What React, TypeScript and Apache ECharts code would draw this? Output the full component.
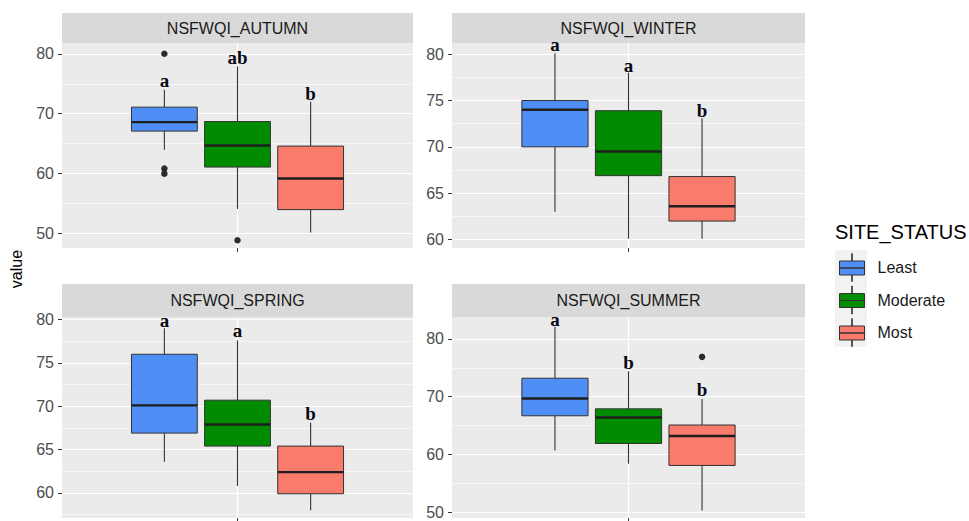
import React, { useEffect, useRef } from "react";
import * as echarts from "echarts";

// ---------- data ----------
const panelNames = ["NSFWQI_AUTUMN", "NSFWQI_WINTER", "NSFWQI_SPRING", "NSFWQI_SUMMER"];
const groupNames = ["Least", "Moderate", "Most"];

// per group: [lower whisker, Q1, median, Q3, upper whisker]
const autumnBoxes = [
  [64.0, 67.1, 68.6, 71.1, 74.0],
  [54.1, 61.1, 64.7, 68.7, 77.9],
  [50.2, 54.0, 59.2, 64.6, 72.0],
];
const winterBoxes = [
  [63.0, 70.0, 74.0, 75.0, 80.1],
  [60.1, 66.9, 69.5, 73.9, 78.0],
  [60.1, 62.0, 63.6, 66.8, 73.1],
];
const springBoxes = [
  [63.6, 66.9, 70.1, 76.0, 79.0],
  [60.8, 65.4, 67.9, 70.7, 77.6],
  [58.0, 59.9, 62.4, 65.4, 68.1],
];
const summerBoxes = [
  [60.7, 66.7, 69.7, 73.2, 82.1],
  [58.4, 61.9, 66.4, 67.9, 74.4],
  [50.3, 58.1, 63.2, 65.1, 69.6],
];

// outliers: [group index, value]
const autumnOutliers = [[0, 80.0], [0, 60.85], [0, 60.0], [1, 48.9]];
const winterOutliers: number[][] = [];
const springOutliers: number[][] = [];
const summerOutliers = [[2, 76.9]];

// significance letters and their heights
const autumnLetters = ["a", "ab", "b"];
const autumnLetterY = [75.5, 79.3, 73.4];
const winterLetters = ["a", "a", "b"];
const winterLetterY = [81.0, 78.8, 73.9];
const springLetters = ["a", "a", "b"];
const springLetterY = [79.85, 78.7, 69.2];
const summerLetters = ["a", "b", "b"];
const summerLetterY = [83.3, 75.9, 71.3];

// tick labels
const autumnTicks = [50, 60, 70, 80];
const winterTicks = [60, 65, 70, 75, 80];
const springTicks = [60, 65, 70, 75, 80];
const summerTicks = [50, 60, 70, 80];

// ---------- layout / style ----------
const COLORS = ["#4f8ff5", "#008b00", "#f87b6c"];
const SANS = "Liberation Sans, Arial, sans-serif";
const SERIF = "Liberation Serif, Times New Roman, serif";
const X_CENTER = 0.6;
const DODGE = 0.25;
const BOX_W = 0.225;

const panels = [
  { boxes: autumnBoxes, outliers: autumnOutliers, letters: autumnLetters, letterY: autumnLetterY, ticks: autumnTicks,
    left: 62, top: 43, width: 351, height: 205, stripTop: 13, stripH: 30, yMin: 47.6, yMax: 81.8, interval: 10 },
  { boxes: winterBoxes, outliers: winterOutliers, letters: winterLetters, letterY: winterLetterY, ticks: winterTicks,
    left: 452, top: 43, width: 353, height: 205, stripTop: 13, stripH: 30, yMin: 59.1, yMax: 81.2, interval: 5 },
  { boxes: springBoxes, outliers: springOutliers, letters: springLetters, letterY: springLetterY, ticks: springTicks,
    left: 62, top: 317, width: 351, height: 201, stripTop: 284, stripH: 33, yMin: 57.1, yMax: 80.3, interval: 5 },
  { boxes: summerBoxes, outliers: summerOutliers, letters: summerLetters, letterY: summerLetterY, ticks: summerTicks,
    left: 452, top: 317, width: 353, height: 201, stripTop: 284, stripH: 33, yMin: 49.0, yMax: 83.8, interval: 10 },
];

const groupX = (g: number) => X_CENTER + (g - 1) * DODGE;

const renderBox = (params: any, api: any) => {
  const x = api.value(0);
  const lo = api.coord([x, api.value(1)]);
  const q1 = api.coord([x, api.value(2)]);
  const md = api.coord([x, api.value(3)]);
  const q3 = api.coord([x, api.value(4)]);
  const hi = api.coord([x, api.value(5)]);
  const hw = api.size([BOX_W, 0])[0] / 2;
  const cx = lo[0];
  const color = api.visual("color");
  return {
    type: "group",
    children: [
      { type: "line", shape: { x1: cx, y1: hi[1], x2: cx, y2: q3[1] }, style: { stroke: "#333", lineWidth: 1.1 } },
      { type: "line", shape: { x1: cx, y1: q1[1], x2: cx, y2: lo[1] }, style: { stroke: "#333", lineWidth: 1.1 } },
      {
        type: "rect",
        shape: { x: cx - hw, y: q3[1], width: hw * 2, height: q1[1] - q3[1] },
        style: { fill: color, stroke: "#333", lineWidth: 1 },
      },
      { type: "line", shape: { x1: cx - hw, y1: md[1], x2: cx + hw, y2: md[1] }, style: { stroke: "#1e1e1e", lineWidth: 2.4 } },
    ],
  };
};

const LEGEND_ICON =
  "path://M0,7.5H25V14.5H0Z M0,14.5H25V21.5H0Z M12.3,0H12.7V7.5H12.3Z M12.3,21.5H12.7V28H12.3Z";

function buildOption() {
  const grid: any[] = [];
  const xAxis: any[] = [];
  const yAxis: any[] = [];
  const series: any[] = [];
  const graphic: any[] = [];

  panels.forEach((p, i) => {
    grid.push({ left: p.left, top: p.top, width: p.width, height: p.height, show: true, backgroundColor: "#ebebeb", borderWidth: 0 });
    xAxis.push({
      type: "value", gridIndex: i, min: 0, max: 1.2, interval: 0.6,
      axisLine: { show: false },
      axisLabel: { show: false },
      axisTick: { show: true, length: 4, customValues: [X_CENTER], lineStyle: { color: "#333", width: 1 } },
      splitLine: { show: true, lineStyle: { color: "#ffffff", width: 1.2 } },
    });
    yAxis.push({
      type: "value", gridIndex: i, min: p.yMin, max: p.yMax,
      splitNumber: 3, minInterval: p.interval, maxInterval: p.interval,
      axisLine: { show: false },
      axisTick: { show: true, length: 4, customValues: p.ticks, lineStyle: { color: "#333", width: 1 } },
      axisLabel: { customValues: p.ticks, color: "#4d4d4d", fontSize: 16, fontFamily: SANS, margin: 8 },
      splitLine: { show: true, lineStyle: { color: "#ffffff", width: 1.2 } },
      minorTick: { show: false, splitNumber: 2 },
      minorSplitLine: { show: true, lineStyle: { color: "#ffffff", width: 0.6 } },
    });

    p.boxes.forEach((b, g) => {
      series.push({
        type: "custom", name: groupNames[g], xAxisIndex: i, yAxisIndex: i,
        itemStyle: { color: COLORS[g] },
        encode: { x: 0, y: [1, 2, 3, 4, 5] },
        renderItem: renderBox,
        data: [[groupX(g), ...b]],
        z: 3,
      });
    });

    series.push({
      type: "scatter", name: "outlier", xAxisIndex: i, yAxisIndex: i,
      symbolSize: 6.5, itemStyle: { color: "#2b2b2b", opacity: 1 },
      data: p.outliers.map((o) => [groupX(o[0]), o[1]]),
      z: 4,
    });

    series.push({
      type: "scatter", name: "letters", xAxisIndex: i, yAxisIndex: i,
      symbolSize: 0, itemStyle: { color: "transparent", opacity: 1 },
      label: { show: true, position: "inside", formatter: "{b}", color: "#0a0a14", fontSize: 19, fontWeight: "bold", fontFamily: SERIF },
      data: p.letters.map((t, g) => ({ name: t, value: [groupX(g), p.letterY[g]] })),
      z: 5,
    });

    graphic.push({
      type: "rect", z: 0, shape: { x: p.left, y: p.stripTop, width: p.width, height: p.stripH },
      style: { fill: "#d9d9d9" },
    });
    graphic.push({
      type: "text", z: 1, x: p.left + p.width / 2, y: p.stripTop + p.stripH / 2,
      style: {
        text: panelNames[i], fill: "#1a1a1a", font: `16px ${SANS}`,
        align: "center", verticalAlign: "middle", textAlign: "center", textVerticalAlign: "middle",
      },
    });
  });

  graphic.push({
    type: "text", x: 16, y: 269, rotation: Math.PI / 2,
    style: { text: "value", fill: "#000", font: `16px ${SANS}`, align: "center", verticalAlign: "middle", textAlign: "center", textVerticalAlign: "middle" },
  });
  graphic.push({
    type: "text", x: 835, y: 232,
    style: { text: "SITE_STATUS", fill: "#000", font: `20px ${SANS}`, align: "left", verticalAlign: "middle", textAlign: "left", textVerticalAlign: "middle" },
  });
  graphic.push({
    type: "rect", z: 0, shape: { x: 835, y: 250, width: 32, height: 97 }, style: { fill: "#f2f2f2" },
  });

  return {
    animation: false,
    backgroundColor: "#ffffff",
    grid, xAxis, yAxis, series, graphic,
    legend: {
      data: groupNames, orient: "vertical", left: 839, top: 253, padding: 0,
      itemWidth: 25, itemHeight: 28, itemGap: 3.5, icon: LEGEND_ICON, selectedMode: false,
      itemStyle: { borderColor: "#333", borderWidth: 1 },
      textStyle: { fontSize: 16, color: "#1a1a1a", fontFamily: SANS, padding: [0, 0, 0, 8] },
    },
  };
}

export default function App() {
  const ref = useRef<HTMLDivElement>(null);
  useEffect(() => {
    if (!ref.current) return;
    const chart = echarts.init(ref.current, undefined, { renderer: "svg" });
    chart.setOption(buildOption() as any);
    return () => chart.dispose();
  }, []);
  return <div ref={ref} style={{ position: "fixed", left: 0, top: 0, width: 969, height: 521 }} />;
}
